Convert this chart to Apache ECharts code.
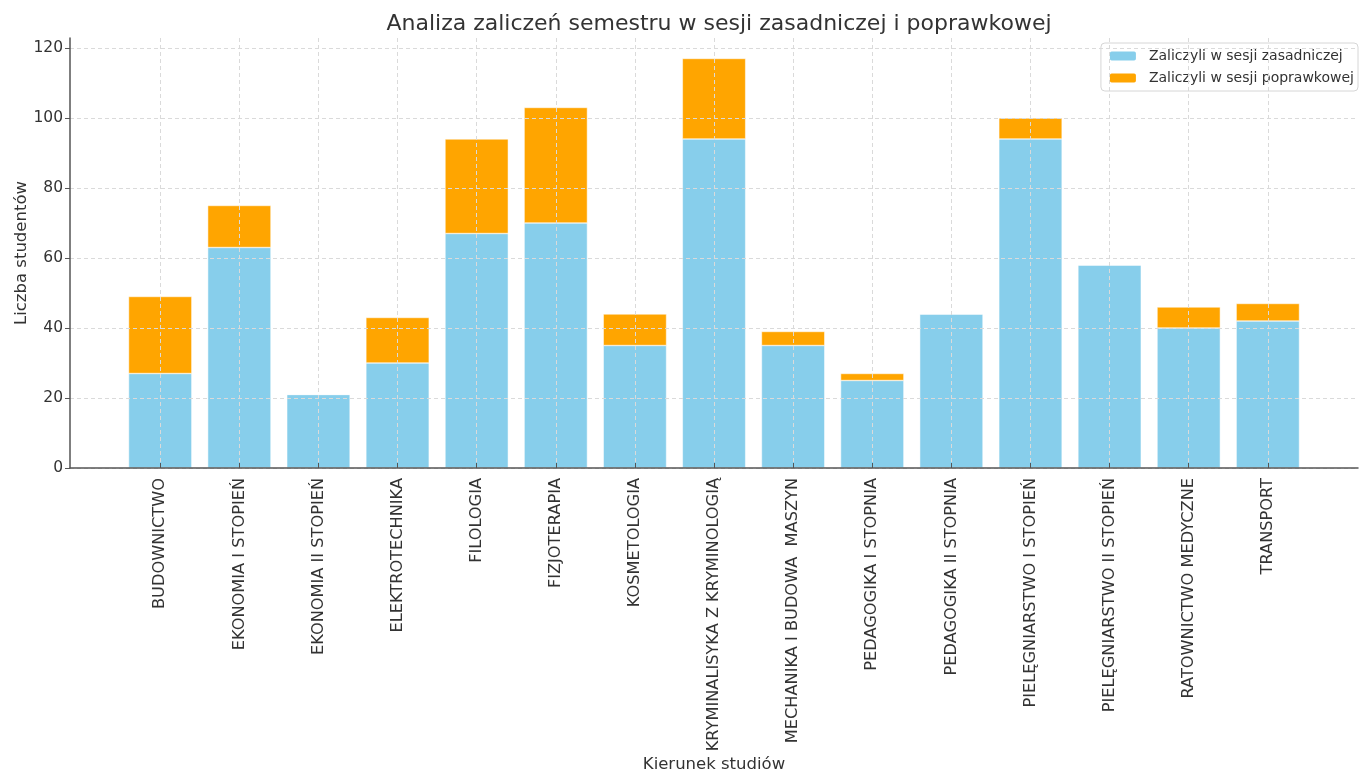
<!DOCTYPE html>
<html>
<head>
<meta charset="utf-8">
<script src="https://cdn.jsdelivr.net/npm/echarts@6/dist/echarts.min.js"></script>
<style>
html,body{margin:0;padding:0;background:#fff;}
#chart{width:1370px;height:773px;}
</style>
</head>
<body>
<div id="chart"></div>
<script>
const categories = [
  'BUDOWNICTWO',
  'EKONOMIA I STOPIEŃ',
  'EKONOMIA II STOPIEŃ',
  'ELEKTROTECHNIKA',
  'FILOLOGIA',
  'FIZJOTERAPIA',
  'KOSMETOLOGIA',
  'KRYMINALISYKA Z KRYMINOLOGIĄ',
  'MECHANIKA I BUDOWA  MASZYN',
  'PEDAGOGIKA I STOPNIA',
  'PEDAGOGIKA II STOPNIA',
  'PIELĘGNIARSTWO I STOPIEŃ',
  'PIELĘGNIARSTWO II STOPIEŃ',
  'RATOWNICTWO MEDYCZNE',
  'TRANSPORT'
];
const mainSession = [27, 63, 21, 30, 67, 70, 35, 94, 35, 25, 44, 94, 58, 40, 42];
const resitSession = [22, 12, 0, 13, 27, 33, 9, 23, 4, 2, 0, 6, 0, 6, 5];
const seriesNames = ['Zaliczyli w sesji zasadniczej', 'Zaliczyli w sesji poprawkowej'];
const yTicks = [0, 20, 40, 60, 80, 100, 120];

const font = 'DejaVu Sans';
const textColor = '#333333';
const positions = categories.map((c, i) => i);

// layout (matplotlib-like margins around the categories)
const W = 1370, gridL = 70, gridR = 12, gridT = 38, gridB = 305;
const xMin = -1.14, xMax = 15.14, yMax = 122.85;
const pxPerUnit = (W - gridL - gridR) / (xMax - xMin);
const pad = (-0.5 - xMin) * pxPerUnit;

const chart = echarts.init(document.getElementById('chart'), null, {renderer: 'canvas'});
chart.setOption({
  animation: false,
  backgroundColor: '#ffffff',
  textStyle: {fontFamily: font},
  title: {
    text: 'Analiza zaliczeń semestru w sesji zasadniczej i poprawkowej',
    left: 714, top: 8, textAlign: 'center',
    textStyle: {fontFamily: font, fontSize: 22, fontWeight: 'normal', color: textColor}
  },
  legend: {
    right: 12, top: 43, orient: 'vertical',
    itemWidth: 28, itemHeight: 11, itemGap: 8,
    padding: [6, 4, 6, 7],
    borderColor: '#d6d6d6', borderWidth: 1, borderRadius: 4,
    backgroundColor: 'rgba(255,255,255,0.8)',
    textStyle: {fontFamily: font, fontSize: 14, color: textColor, padding: [0, 0, 0, 7]},
    data: seriesNames
  },
  grid: [
    {left: gridL, right: gridR, top: gridT, bottom: gridB, containLabel: false, outerBoundsMode: 'none'},
    {left: gridL + pad, right: gridR + pad, top: gridT, bottom: gridB, containLabel: false, outerBoundsMode: 'none'}
  ],
  xAxis: [
    {
      gridIndex: 0, type: 'value', min: xMin, max: xMax, z: 5,
      name: 'Kierunek studiów', nameLocation: 'middle', nameGap: 288, nameMoveOverlap: false,
      nameTextStyle: {fontFamily: font, fontSize: 16.5, color: textColor},
      axisLine: {show: true, onZero: false, lineStyle: {color: '#555', width: 1.5}},
      axisTick: {show: true, inside: true, length: 5, customValues: positions, lineStyle: {color: '#555'}},
      axisLabel: {
        customValues: positions,
        rotate: 90, margin: 10,
        fontFamily: font, fontSize: 16.2, color: textColor,
        formatter: v => categories[Math.round(v)] || ''
      },
      splitLine: {show: true, lineStyle: {color: '#dadada', type: [4, 3], width: 1}}
    },
    {
      gridIndex: 1, type: 'category', data: categories,
      axisLine: {show: false}, axisTick: {show: false}, axisLabel: {show: false}, splitLine: {show: false}
    }
  ],
  yAxis: [
    {
      gridIndex: 0, type: 'value', min: 0, max: yMax, z: 5,
      name: 'Liczba studentów', nameLocation: 'middle', nameGap: 40, nameRotate: 90, nameMoveOverlap: false,
      nameTextStyle: {fontFamily: font, fontSize: 16.5, color: textColor},
      axisLine: {show: true, onZero: false, lineStyle: {color: '#555', width: 1.5}},
      axisTick: {show: true, length: 5, customValues: yTicks, lineStyle: {color: '#555'}},
      axisLabel: {customValues: yTicks, fontFamily: font, fontSize: 15.5, color: textColor, margin: 7},
      splitLine: {show: true, lineStyle: {color: '#dadada', type: [4, 3], width: 1}}
    },
    {
      gridIndex: 1, type: 'value', min: 0, max: yMax,
      axisLine: {show: false}, axisTick: {show: false}, axisLabel: {show: false}, splitLine: {show: false}
    }
  ],
  series: [
    {
      name: seriesNames[0], type: 'bar', stack: 'total', xAxisIndex: 1, yAxisIndex: 1,
      barWidth: '80%',
      itemStyle: {color: '#87CEEB', borderColor: '#ffffff', borderWidth: 0.5},
      data: mainSession
    },
    {
      name: seriesNames[1], type: 'bar', stack: 'total', xAxisIndex: 1, yAxisIndex: 1,
      barWidth: '80%',
      itemStyle: {color: '#FFA500', borderColor: '#ffffff', borderWidth: 0.5},
      data: resitSession
    }
  ]
});
</script>
</body>
</html>
